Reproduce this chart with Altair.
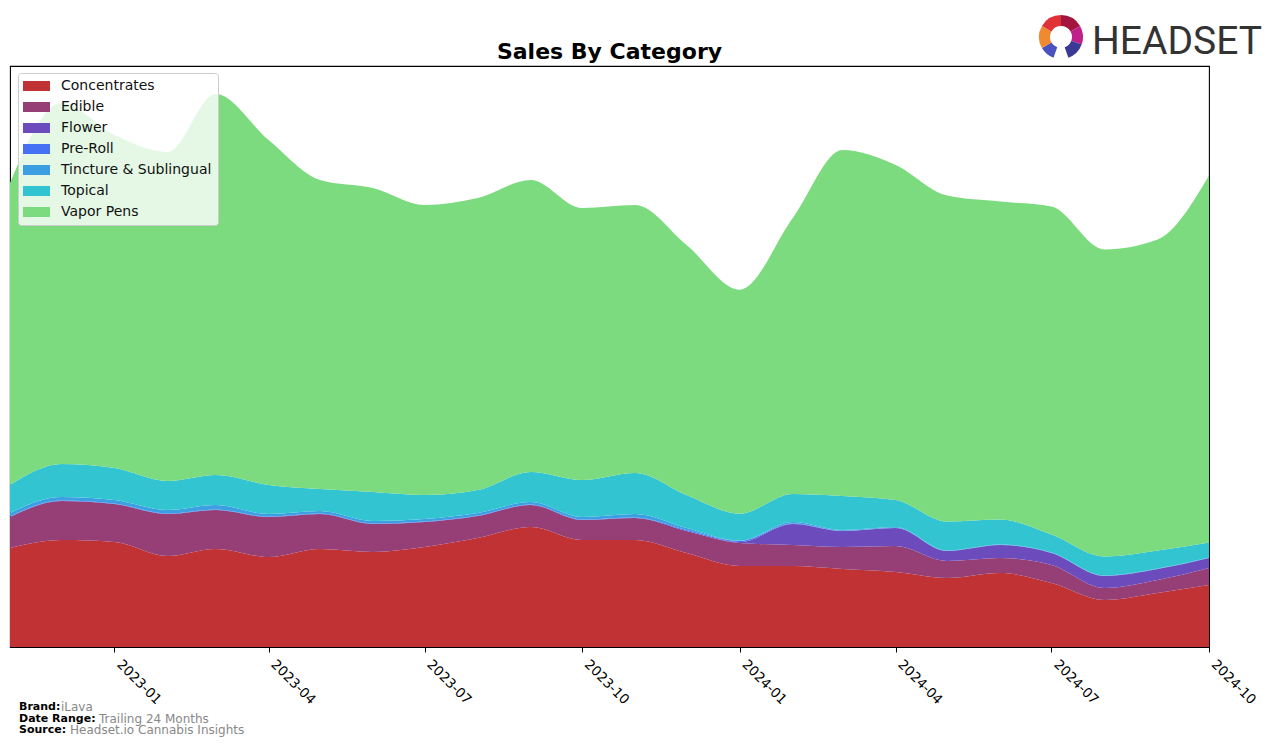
import altair as alt
import pandas as pd

months = ["2022-11-01", "2022-12-01", "2023-01-01", "2023-02-01", "2023-03-01", "2023-04-01",
          "2023-05-01", "2023-06-01", "2023-07-01", "2023-08-01", "2023-09-01", "2023-10-01",
          "2023-11-01", "2023-12-01", "2024-01-01", "2024-02-01", "2024-03-01", "2024-04-01",
          "2024-05-01", "2024-06-01", "2024-07-01", "2024-08-01", "2024-09-01", "2024-10-01"]

categories = ["Concentrates", "Edible", "Flower", "Pre-Roll", "Tincture & Sublingual", "Topical", "Vapor Pens"]
colors = ["#c03233", "#963f76", "#6c4cbc", "#4572f4", "#3b9fe2", "#33c4d2", "#7bdb7e"]

concentrates = [99, 107, 105, 91, 98, 90, 98, 95, 100, 109, 120, 107, 107, 94, 81, 81, 78, 75, 69, 74, 64, 47, 54, 62]
edible = [31, 39, 38, 42, 39, 40, 35, 28, 25, 22, 22, 20, 22, 22, 23, 21, 22, 26, 17, 15, 18, 12, 13, 17]
flower = [0, 0, 0, 0, 0, 0, 0, 0, 0, 0, 0, 0, 0, 0, 1, 21, 16, 18, 10, 13, 12, 12, 11, 10]
pre_roll = [0.5, 0.5, 0.5, 0.5, 0.5, 0.5, 0.5, 0.5, 0.5, 0.5, 0.5, 0.5, 0.5, 1, 1, 0.5, 0.3, 0.3, 0.2, 0.2, 0.2, 0.2, 0.2, 0.2]
tincture = [3.5, 3.5, 3.5, 3.5, 4.5, 2.5, 2.5, 2.5, 2.5, 2.5, 2.5, 2.5, 3.5, 2, 0.3, 1.5, 0.7, 0.7, 0.3, 0.3, 0.3, 0.3, 0.3, 0.3]
topical = [28, 33, 32, 29, 30, 29, 22, 29, 24, 23, 30, 37, 41, 33, 27, 28, 34, 27, 29, 25, 18, 19, 18, 15]
vapor_pens = [302, 361, 333, 329, 381, 345, 309, 304, 290, 292, 292, 272, 268, 250, 224, 276, 346, 335, 326, 318, 328, 307, 311, 367]

series = [concentrates, edible, flower, pre_roll, tincture, topical, vapor_pens]

tick_dates = [(2023, 1), (2023, 4), (2023, 7), (2023, 10), (2024, 1), (2024, 4), (2024, 7), (2024, 10)]

footer_labels = ["Brand:", "Date Range:", "Source:"]
footer_values = ["iLava", "Trailing 24 Months", "Headset.io Cannabis Insights"]

rows = []
for ci, (cat, vals) in enumerate(zip(categories, series)):
    for m, v in zip(months, vals):
        rows.append({"date": m, "category": cat, "value": v, "order": ci})
df = pd.DataFrame(rows)

x_enc = alt.X(
    "date:T",
    scale=alt.Scale(type="utc",
                    domain=[alt.DateTime(year=2022, month=11, date=1, utc=True),
                            alt.DateTime(year=2024, month=10, date=1, utc=True)],
                    nice=False),
    axis=alt.Axis(values=[alt.DateTime(year=y, month=m, date=1, utc=True) for y, m in tick_dates],
                  format="%Y-%m", labelAngle=45, labelAlign="left", labelBaseline="top",
                  labelOffset=9, labelPadding=5,
                  tickSize=5, tickColor="black", tickWidth=1, domain=False, grid=False, title=None,
                  labelFontSize=13.5, labelFont="DejaVu Sans", labelColor="black"),
)

area = alt.Chart(df).mark_area(interpolate="monotone", opacity=1).encode(
    x=x_enc,
    y=alt.Y("value:Q", stack="zero", scale=alt.Scale(domain=[0, 581], nice=False), axis=None),
    color=alt.Color("category:N", scale=alt.Scale(domain=categories, range=colors),
                    legend=alt.Legend(title=None, orient="none", legendX=8, legendY=7,
                                      symbolType="M-2.7,-1L2.7,-1L2.7,1L-2.7,1Z",
                                      symbolSize=100, symbolStrokeWidth=0, symbolOpacity=1,
                                      symbolOffset=5.5, labelOffset=17.5,
                                      labelFont="DejaVu Sans", labelFontSize=14, labelColor="#111",
                                      rowPadding=7, padding=6,
                                      fillColor="rgba(255,255,255,0.8)", strokeColor="#cccccc",
                                      cornerRadius=3)),
    order=alt.Order("order:Q", sort="ascending"),
)

one = pd.DataFrame({"a": [0]})

title = alt.Chart(one).mark_text(text="Sales By Category", font="DejaVu Sans", fontWeight="bold",
                                 fontSize=22, align="center", baseline="middle", color="black").encode(
    x=alt.value(599.5), y=alt.value(-14))

logo_text = alt.Chart(one).mark_text(text="HEADSET", font="Roboto",
                                     fontSize=39, align="left", baseline="alphabetic", color="#333333").encode(
    x=alt.value(1082), y=alt.value(-12))

arc_segments = [(0.0, 1.05, "#a3153f"), (1.05, 1.92, "#c0208a"), (1.92, 2.8, "#3a3a96"),
                (3.49, 4.19, "#4a52c0"), (4.19, 5.24, "#f08a30"), (5.24, 6.2832, "#e03038")]
arcs = [alt.Chart(one).mark_arc(theta=t0, theta2=t1, radius=22, radius2=11, color=c).encode(
    x=alt.value(1051), y=alt.value(-29)) for t0, t1, c in arc_segments]

footer_df = pd.DataFrame({"label": footer_labels, "value": footer_values,
                          "ly": [641, 653, 664], "vx": [51, 89, 60]})
footer_lab = alt.Chart(footer_df).mark_text(font="DejaVu Sans", fontWeight="bold", fontSize=11,
                                            align="left", baseline="middle", color="black").encode(
    x=alt.value(9), y=alt.Y("ly:Q", scale=None), text="label:N")
footer_val = alt.Chart(footer_df).mark_text(font="DejaVu Sans", fontSize=12,
                                            align="left", baseline="middle", color="#888888").encode(
    x=alt.X("vx:Q", scale=None), y=alt.Y("ly:Q", scale=None), text="value:N")

chart = alt.layer(area, title, logo_text, *arcs, footer_lab, footer_val).resolve_scale(
    x="independent", y="independent"
).properties(
    width=1199, height=581,
    padding={"left": 10, "top": 66, "right": 67, "bottom": 99},
    autosize=alt.AutoSizeParams(type="none"),
).configure(background="white", view=alt.ViewConfig(stroke="black", strokeWidth=1.1))

chart.save("out.html", embed_options={"renderer": "svg", "actions": False})
